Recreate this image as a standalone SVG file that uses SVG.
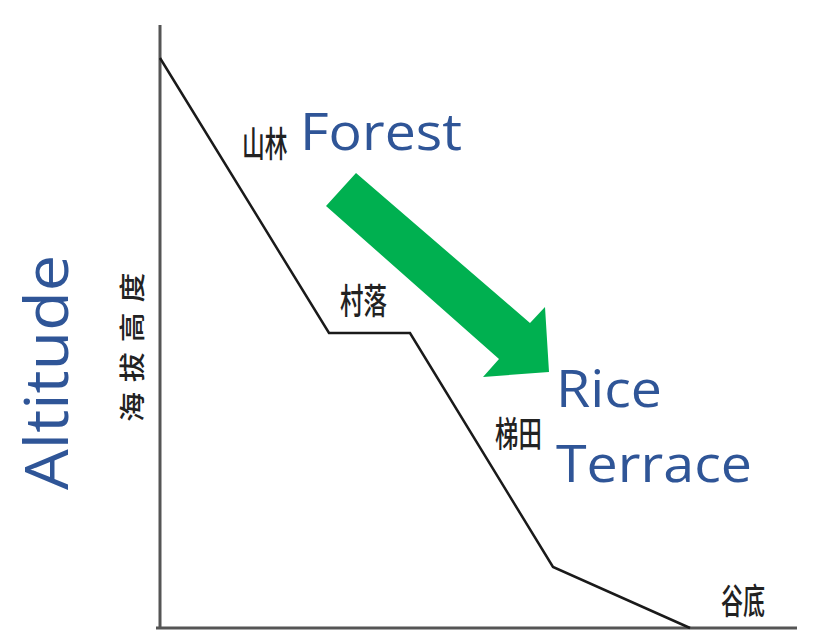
<svg xmlns="http://www.w3.org/2000/svg" width="815" height="632" viewBox="0 0 815 632">
<style>
.axis{stroke:#555;stroke-width:3;fill:none}
.prof{stroke:#1a1a1a;stroke-width:2.5;fill:none;stroke-linejoin:miter}
.cn{font-family:"Noto Sans CJK SC","Noto Sans CJK JP",sans-serif;font-size:35px;fill:#222;font-weight:500}
.en{font-family:"Open Sans","Noto Sans",sans-serif;fill:#2F5597}
</style>
<rect width="815" height="632" fill="#fff"/>
<g id="axes">
<line class="axis" x1="160" y1="25" x2="160" y2="629"/>
<line class="axis" x1="156" y1="628" x2="797" y2="628"/>
</g>
<g id="connectors">
<polyline class="prof" points="160,58 329,333 410,333 553,567 690,628"/>
<polygon id="arrow" fill="#00B050" points="356,173 530,323 545,307 549,372 483,377 499,359 326,206"/>
</g>
<g id="label-shanlin"><text class="cn" transform="translate(242,157) scale(0.65,1)">山林</text></g>
<g id="label-cunluo"><text class="cn" transform="translate(340,314) scale(0.67,1)">村落</text></g>
<g id="label-titian"><text class="cn" transform="translate(495,447) scale(0.67,1)">梯田</text></g>
<g id="label-gudi"><text class="cn" transform="translate(721,614) scale(0.63,1)">谷底</text></g>
<g id="label-haiba"><text class="cn" style="font-size:26px" transform="translate(142,422) rotate(-90) scale(1.15,1)" textLength="130" lengthAdjust="spacing">海拔高度</text></g>
<g id="label-altitude"><text class="en" font-size="60" transform="translate(68,490) rotate(-90)" textLength="235" lengthAdjust="spacingAndGlyphs">Altitude</text></g>
<g id="label-forest"><text class="en" font-size="52" x="300" y="150" textLength="162" lengthAdjust="spacingAndGlyphs">Forest</text></g>
<g id="label-rice"><text class="en" font-size="52" x="556" y="407" textLength="106" lengthAdjust="spacingAndGlyphs">Rice</text></g>
<g id="label-terrace"><text class="en" font-size="52" x="556" y="482" textLength="196" lengthAdjust="spacingAndGlyphs">Terrace</text></g>
</svg>
